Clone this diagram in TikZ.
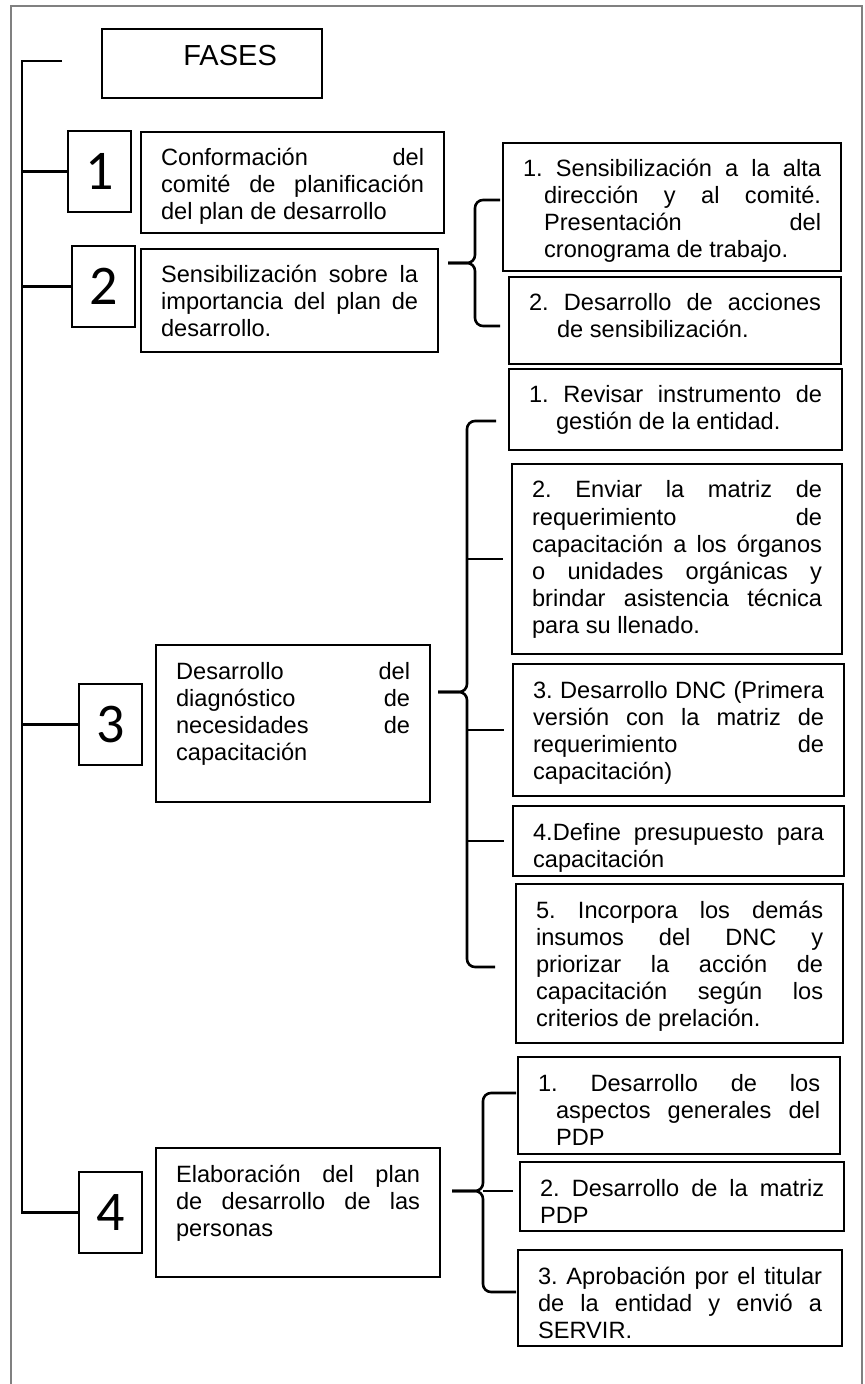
\documentclass[tikz,border=0pt]{standalone}
\usepackage{fontspec}
\setmainfont{Liberation Sans}
\newfontfamily\numfont{Carlito}
\hyphenpenalty=10000
\exhyphenpenalty=10000
\hbadness=10000
\frenchspacing
\newcommand{\caja}[3]{\parbox[c][#2][t]{#1}{\vspace*{7.5pt}\strut #3}}
\tikzset{
  fase/.style={draw, line width=1.1pt, anchor=north west, inner xsep=10pt, inner ysep=0pt, font=\fontsize{11.8}{13.5}\selectfont},
  numero/.style={draw, line width=1.1pt, anchor=north west, minimum width=31.5pt, minimum height=40.5pt, inner sep=0pt, font=\numfont\fontsize{28}{30}\selectfont},
  llave/.style={line width=1.3pt},
  marco/.style={draw=gray, line width=0.8pt}
}
\begin{document}
\begin{tikzpicture}[x=0.5pt, y=-0.5pt]
    \useasboundingbox (0, 0) rectangle (865, 1384);
    \draw[marco] (11, 1384) -- (11, 6) -- (862, 6) -- (862, 1384);

    \node[fase, inner sep=0pt, minimum width=110pt, minimum height=34.5pt, font=\fontsize{14.5}{16}\selectfont] (fases) at (101, 28) {\hspace*{18pt}\raisebox{-1pt}[0pt][0pt]{FASES}};

    \node[numero] (n1) at (67, 130) {1};
    \node[fase] (t1) at (140, 131) {\caja{131.5pt}{50.5pt}{Conformación del\linebreak comité de planificación\linebreak del plan de desarrollo}};
    \node[numero] (n2) at (71, 245) {2};
    \node[fase] (t2) at (140, 248) {\caja{128.5pt}{51.5pt}{Sensibilización sobre la\linebreak importancia del plan de\linebreak desarrollo.}};
    \node[numero] (n3) at (78, 683) {3};
    \node[fase] (t3) at (155, 644) {\caja{117pt}{78.5pt}{Desarrollo del\linebreak diagnóstico de\linebreak necesidades de\linebreak capacitación}};
    \node[numero] (n4) at (78, 1171) {4};
    \node[fase] (t4) at (155, 1147) {\caja{122pt}{64.5pt}{Elaboración del plan\linebreak de desarrollo de las\linebreak personas}};

    \node[fase] (b21) at (502, 142) {\caja{149pt}{64pt}{\hangindent=10.5pt\hangafter=1 1. Sensibilización a la alta\linebreak dirección y al comité.\linebreak Presentación del\linebreak cronograma de trabajo.}};
    \node[fase] (b22) at (508, 276) {\caja{146pt}{43.5pt}{\hangindent=14pt\hangafter=1 2. Desarrollo de acciones\linebreak de sensibilización.}};

    \node[fase] (b31) at (508, 368) {\caja{146.5pt}{40.5pt}{\hangindent=13.5pt\hangafter=1 1. Revisar instrumento de\linebreak gestión de la entidad.}};
    \node[fase] (b32) at (511, 463) {\caja{145pt}{95pt}{2. Enviar la matriz de\linebreak requerimiento de\linebreak capacitación a los órganos\linebreak o unidades orgánicas y\linebreak brindar asistencia técnica\linebreak para su llenado.}};
    \node[fase] (b33) at (512, 663) {\caja{145.5pt}{66pt}{3. Desarrollo DNC (Primera\linebreak versión con la matriz de\linebreak requerimiento de\linebreak capacitación)}};
    \node[fase] (b34) at (512, 805) {\caja{145.5pt}{35pt}{4.Define presupuesto para\linebreak capacitación}};
    \node[fase] (b35) at (515, 883) {\caja{143.5pt}{79.5pt}{5. Incorpora los demás\linebreak insumos del DNC y\linebreak priorizar la acción de\linebreak capacitación según los\linebreak criterios de prelación.}};

    \node[fase] (b41) at (517, 1056) {\caja{141pt}{48.5pt}{\hangindent=9pt\hangafter=1 1. Desarrollo de los\linebreak aspectos generales del\linebreak PDP}};
    \node[fase] (b42) at (519, 1161) {\caja{142pt}{34.5pt}{2. Desarrollo de la matriz\linebreak PDP}};
    \node[fase] (b43) at (517, 1249) {\caja{142pt}{48pt}{3. Aprobación por el titular\linebreak de la entidad y envió a\linebreak SERVIR.}};

    \coordinate (spine) at (22, 61);
    \coordinate (fasesline) at (62, 61);
    \draw[llave] (fasesline) -- (spine) |- (n4.west);
    \foreach \n in {n1, n2, n3}
        \draw[llave] (\n.west) -- (\n.west -| spine);

    \coordinate (tip2) at (448, 263);
    \coordinate (sp2) at (475, 263);
    \coordinate (top2) at (500, 200);
    \coordinate (bot2) at (500, 326);
    \draw[llave, rounded corners=4pt] (top2) -| (sp2) -- (tip2);
    \draw[llave, rounded corners=4pt] (tip2) -| (bot2 -| sp2) -- (bot2);

    \coordinate (tip3) at (438, 692);
    \coordinate (sp3) at (467, 692);
    \coordinate (top3) at (496, 421);
    \coordinate (bot3) at (495, 967);
    \draw[llave, rounded corners=4pt] (top3) -| (sp3) -- (tip3);
    \draw[llave, rounded corners=4pt] (tip3) -| (bot3 -| sp3) -- (bot3);
    \foreach \b in {b32, b33, b34}
        \draw[llave, shorten >=4pt] (\b.west -| sp3) -- (\b.west);

    \coordinate (tip4) at (452, 1191);
    \coordinate (sp4) at (483, 1191);
    \coordinate (top4) at (516, 1093);
    \coordinate (bot4) at (516, 1292);
    \draw[llave, rounded corners=4pt] (top4) -| (sp4) -- (tip4);
    \draw[llave, rounded corners=4pt] (tip4) -| (bot4 -| sp4) -- (bot4);
    \draw[llave, shorten >=3pt] (sp4) -- (sp4 -| b42.west);
\end{tikzpicture}
\end{document}
